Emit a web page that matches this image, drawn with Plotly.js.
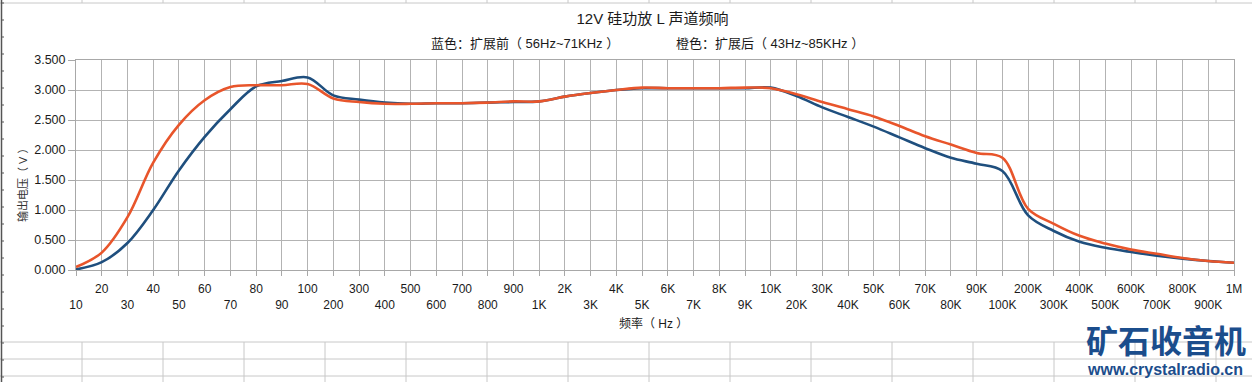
<!DOCTYPE html>
<html><head><meta charset="utf-8">
<script src="https://cdn.plot.ly/plotly-3.0.1.min.js"></script>
<style>html,body{margin:0;padding:0;background:#fff;overflow:hidden}</style>
</head><body><div id="chart" style="width:1252px;height:382px"></div>
<script>
const categories = ['10','20','30','40','50','60','70','80','90','100',
  '200','300','400','500','600','700','800','900','1K',
  '2K','3K','4K','5K','6K','7K','8K','9K','10K',
  '20K','30K','40K','50K','60K','70K','80K','90K','100K',
  '200K','300K','400K','500K','600K','700K','800K','900K','1M'];
const blueValues = [0.01,0.13,0.45,1.00,1.66,2.22,2.68,3.06,3.15,3.21,
  2.91,2.84,2.79,2.77,2.78,2.78,2.79,2.80,2.81,
  2.89,2.95,3.00,3.03,3.03,3.03,3.03,3.03,3.04,
  2.90,2.71,2.55,2.39,2.21,2.03,1.87,1.77,1.65,
  0.91,0.65,0.47,0.37,0.30,0.24,0.19,0.15,0.12];
const orangeValues = [0.05,0.29,0.88,1.79,2.42,2.83,3.05,3.08,3.08,3.10,
  2.86,2.80,2.77,2.77,2.78,2.78,2.79,2.81,2.81,
  2.89,2.95,3.00,3.04,3.03,3.03,3.03,3.04,3.03,
  2.93,2.80,2.68,2.56,2.40,2.23,2.09,1.95,1.87,
  1.02,0.77,0.57,0.44,0.34,0.27,0.20,0.15,0.12];
const yTickValues = [0,0.5,1,1.5,2,2.5,3,3.5];
const titleText = '12V 硅功放 L 声道频响';
const blueLabel = '蓝色：扩展前（ 56Hz~71KHz ）';
const orangeLabel = '橙色：扩展后（ 43Hz~85KHz ）';
const xTitle = '频率（ Hz ）';
const yTitle = '输出电压（ V ）';
const logoText = '矿石收音机';
const logoUrl = 'www.crystalradio.cn';

const FONT = 'Liberation Sans, Arial, Noto Sans CJK SC, sans-serif';
const CJK = 'Noto Sans CJK SC, Liberation Sans, sans-serif';
const L = 76, R = 1234, T = 60, B = 270, W = 1252, H = 382;
const px = p => (p - L) / (R - L);
const py = p => (B - p) / (B - T);

// staggered tick labels: even index on the lower row
const tickText = categories.map((c, i) => i % 2 === 0 ? '<br>' + c : c);

const sheetLine = {color: '#c8c8c8', width: 1};
const shapes = [];
[3, 342, 359, 376].forEach(y => shapes.push({type:'line', xref:'paper', yref:'paper',
  x0: px(0), x1: px(W), y0: py(y), y1: py(y), line: sheetLine, layer:'below'}));
for (let x = 82; x < W; x += 81) {
  shapes.push({type:'line', xref:'paper', yref:'paper', x0: px(x), x1: px(x), y0: py(0), y1: py(3), line: sheetLine, layer:'below'});
  shapes.push({type:'line', xref:'paper', yref:'paper', x0: px(x), x1: px(x), y0: py(342), y1: py(H), line: sheetLine, layer:'below'});
}
shapes.push({type:'line', xref:'paper', yref:'paper', x0: px(1.5), x1: px(1.5), y0: py(0), y1: py(H), line: {color:'#555', width:1.5}});
for (let y = 3; y < H; y += 17) {
  shapes.push({type:'line', xref:'paper', yref:'paper', x0: px(1), x1: px(4), y0: py(y), y1: py(y), line: {color:'#555', width:1}});
}

const traces = [
  {x: categories, y: blueValues, type:'scatter', mode:'lines', name:'扩展前',
   line:{color:'#1f4f7e', width:2.6, shape:'spline', smoothing:1}},
  {x: categories, y: orangeValues, type:'scatter', mode:'lines', name:'扩展后',
   line:{color:'#e8552b', width:2.6, shape:'spline', smoothing:1}}
];

const layout = {
  width: W, height: H,
  margin: {l: L, r: W - R, t: T, b: H - B, pad: 0},
  paper_bgcolor: '#fff', plot_bgcolor: '#fff',
  showlegend: false,
  font: {family: FONT, size: 12, color: '#1a1a1a'},
  title: {text: titleText, xref:'paper', x: px(652.5), xanchor:'center',
          yref:'container', y: 1 - 18.5 / H, yanchor:'middle',
          font:{family: FONT, size: 15, color:'#1a1a1a'}},
  xaxis: {type:'category', range:[0, categories.length - 1],
    tickmode:'array', tickvals: categories, ticktext: tickText, tickangle: 0,
    showgrid: true, gridcolor:'#b3b3b3', gridwidth: 1,
    showline: true, linecolor:'#a8a8a8', linewidth: 1, mirror: true,
    ticks:'outside', ticklen: 5, tickcolor:'#a8a8a8',
    tickfont:{family: FONT, size: 12, color:'#1a1a1a'},
    ticklabelstandoff: 3, zeroline:false, fixedrange:true},
  yaxis: {range:[0, 3.5], tickmode:'array', tickvals: yTickValues, tickformat:'.3f',
    showgrid: true, gridcolor:'#b3b3b3', gridwidth: 1,
    showline: true, linecolor:'#a8a8a8', linewidth: 1, mirror: true,
    ticks:'outside', ticklen: 7, tickcolor:'#a8a8a8',
    tickfont:{family: FONT, size: 12.5, color:'#1a1a1a'},
    zeroline:false, fixedrange:true},
  shapes: shapes,
  annotations: [
    {text: blueLabel, xref:'paper', yref:'paper', x: px(429), y: py(43.5), xanchor:'left', yanchor:'middle',
     showarrow:false, font:{family: FONT, size: 13, color:'#1a1a1a'}},
    {text: orangeLabel, xref:'paper', yref:'paper', x: px(674), y: py(43.5), xanchor:'left', yanchor:'middle',
     showarrow:false, font:{family: FONT, size: 13, color:'#1a1a1a'}},
    {text: xTitle, xref:'paper', yref:'paper', x: px(653), y: py(323), xanchor:'center', yanchor:'middle',
     showarrow:false, font:{family: FONT, size: 12, color:'#1a1a1a'}},
    {text: yTitle, xref:'paper', yref:'paper', x: px(22), y: py(183), xanchor:'center', yanchor:'middle',
     textangle: -90, showarrow:false, font:{family: FONT, size: 11, color:'#333'}},
    {text: '<b>' + logoText + '</b>', xref:'paper', yref:'paper', x: px(1166), y: py(339), xanchor:'center', yanchor:'middle',
     showarrow:false, font:{family: CJK, size: 32, color:'#1b4d8c'}},
    {text: '<b>' + logoUrl + '</b>', xref:'paper', yref:'paper', x: px(1165), y: py(369), xanchor:'center', yanchor:'middle',
     showarrow:false, font:{family: FONT, size: 16, color:'#1b4d8c'}}
  ]
};

Plotly.newPlot('chart', traces, layout, {staticPlot: true, displayModeBar: false});
</script></body></html>
